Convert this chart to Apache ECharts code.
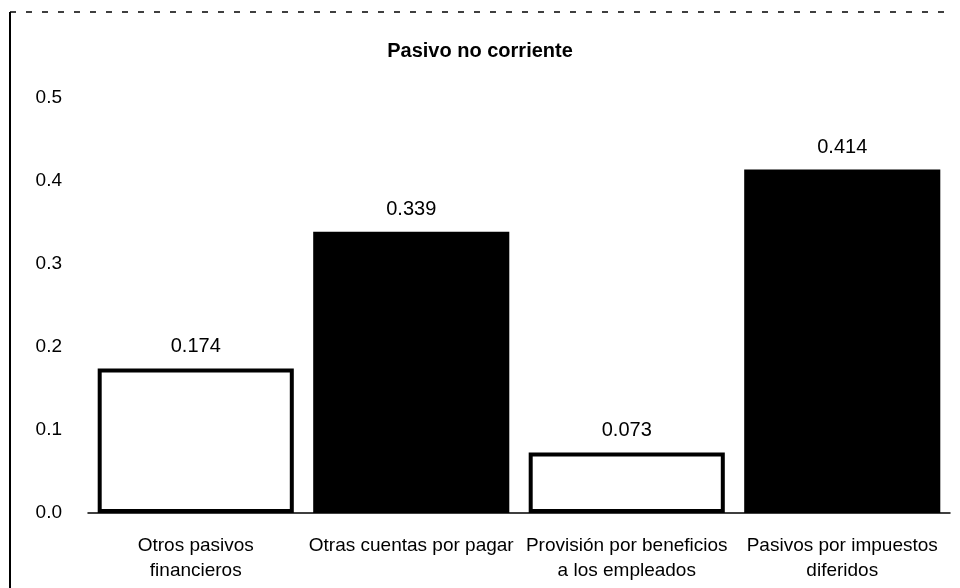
<!DOCTYPE html>
<html>
<head>
<meta charset="utf-8">
<script src="https://cdn.jsdelivr.net/npm/echarts@6/dist/echarts.min.js"></script>
<style>
  html, body { margin: 0; padding: 0; background: #fff; }
  #chart { width: 960px; height: 588px; }
</style>
</head>
<body>
<div id="chart"></div>
<script>
// datos del gráfico
const categories = ['Otros pasivos\nfinancieros', 'Otras cuentas por pagar', 'Provisión por beneficios\na los empleados', 'Pasivos por impuestos\ndiferidos']
const values = [0.174, 0.339, 0.073, 0.414]
const hollow = [true, false, true, false]

const font = "'Liberation Sans Narrow', 'Liberation Sans', Arial, sans-serif"

const myChart = echarts.init(document.getElementById('chart'))
const option = {
  backgroundColor: '#fff',
  animation: false,
  title: {
    text: 'Pasivo no corriente',
    left: 'center',
    top: 36,
    textStyle: { fontFamily: font, fontSize: 20, fontWeight: 'bold', color: '#000' }
  },
  grid: { left: 88, right: 10, top: 98, bottom: 75 },
  xAxis: {
    type: 'category',
    data: categories,
    axisLine: { lineStyle: { color: '#000', width: 1.5 } },
    axisTick: { show: false },
    axisLabel: { fontFamily: font, fontSize: 19, color: '#000', lineHeight: 25, margin: 20, interval: 0 }
  },
  yAxis: {
    type: 'value',
    min: 0,
    max: 0.5,
    interval: 0.1,
    splitLine: { show: false },
    axisLine: { show: false },
    axisLabel: {
      fontFamily: font, fontSize: 19, color: '#000', margin: 26,
      formatter: v => v.toFixed(1)
    }
  },
  series: [
    {
      type: 'bar',
      barCategoryGap: '9%',
      data: values.map((v, i) => ({
        value: v,
        itemStyle: hollow[i]
          ? { color: '#fff', borderColor: '#000', borderWidth: 4 }
          : { color: '#000' }
      })),
      label: {
        show: true,
        position: 'top',
        distance: 12,
        fontFamily: font,
        fontSize: 20,
        color: '#000',
        formatter: p => p.value.toFixed(3)
      }
    }
  ],
  graphic: [
    { type: 'line', shape: { x1: 10, y1: 12, x2: 10, y2: 588 }, style: { stroke: '#000', lineWidth: 2 } },
    { type: 'line', shape: { x1: 10, y1: 12, x2: 950, y2: 12 }, style: { stroke: '#000', lineWidth: 1.5, lineDash: [6, 10] } }
  ]
}
myChart.setOption(option)
</script>
</body>
</html>
